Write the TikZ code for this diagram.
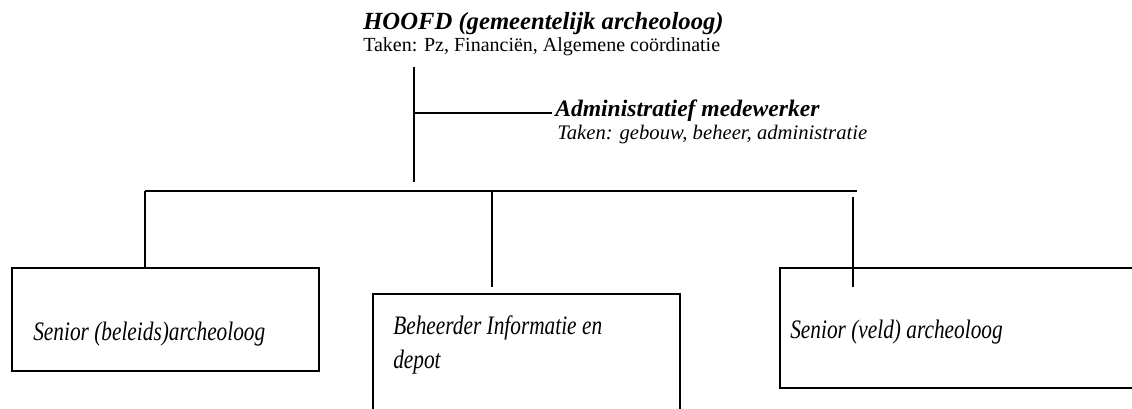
\documentclass[tikz,border=0pt]{standalone}
\usepackage{fontspec}
\setmainfont{Liberation Serif}
\newfontfamily\boxfont[FakeStretch=0.8]{Liberation Serif}
\begin{document}
\begin{tikzpicture}[x=0.75pt,y=-0.75pt,
  conn/.style={line width=1pt},
  orgbox/.style={draw,line width=1pt,rectangle,inner sep=0pt},
  txt/.style={inner sep=0pt,anchor=base west},
  boxtxt/.style={inner sep=0pt,anchor=base west,font=\boxfont\itshape\fontsize{20}{25.5}\selectfont}]
\useasboundingbox (0,0) rectangle (1132,408);
\clip (0,0) rectangle (1132,408);
% titles
\node[txt,font=\bfseries\itshape\fontsize{18.5}{22}\selectfont] (hoofd) at (363,29) {HOOFD (gemeentelijk archeoloog)};
\node[txt,font=\fontsize{15}{18}\selectfont] (hoofdtaken) at (363,51) {Taken: Pz, Financiën, Algemene coördinatie};
\node[txt,font=\bfseries\itshape\fontsize{17.7}{21}\selectfont] (admin) at (555,116) {Administratief medewerker};
\node[txt,font=\itshape\fontsize{15.5}{18}\selectfont] (admintaken) at (557,139) {Taken: gebouw, beheer, administratie};
% boxes
\node[orgbox,minimum width=307*0.75pt,minimum height=103*0.75pt] (lbox) at (165.5,319.5) {};
\node[orgbox,minimum width=307*0.75pt,minimum height=130*0.75pt] (mbox) at (526.5,359) {};
\node[orgbox,minimum width=370*0.75pt,minimum height=120*0.75pt] (rbox) at (965,328) {};
\node[boxtxt] (ltext) at (33,340) {Senior (beleids)archeoloog};
\node[boxtxt,align=left] (mtext) at (393,368) {Beheerder Informatie en\\depot};
\node[boxtxt] (rtext) at (790,338) {Senior (veld) archeoloog};
% connectors
\coordinate (htop) at (414,67);
\coordinate (hbot) at (414,182);
\coordinate (hbranch) at (414,113);
\coordinate (aend) at (552,113);
\coordinate (barl) at (145,191);
\coordinate (barr) at (857,191);
\coordinate (mdrop) at (492,191);
\coordinate (mend) at (492,287);
\coordinate (rstart) at (853,197);
\coordinate (rend) at (853,287);
\draw[conn] (htop) -- (hbot);
\draw[conn] (hbranch) -- (aend);
\draw[conn] (barl) -- (barr);
\draw[conn] (barl) -- (barl |- lbox.north);
\draw[conn] (mdrop) -- (mend);
\draw[conn] (rstart) -- (rend);
\end{tikzpicture}
\end{document}
